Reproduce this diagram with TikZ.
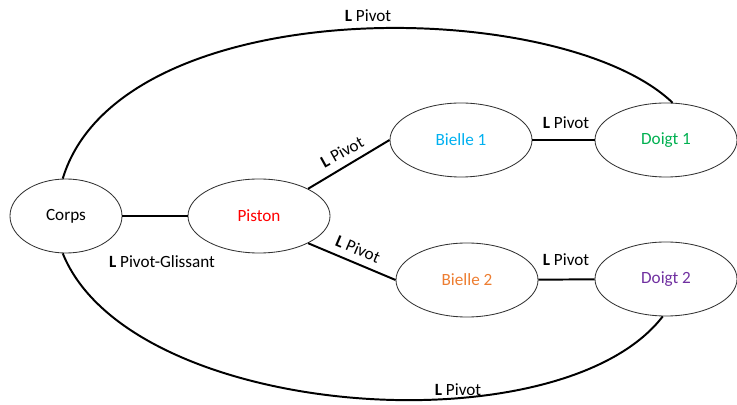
\documentclass[tikz,border=0pt]{standalone}
\usepackage{fontspec}
\setmainfont{Carlito}
\usetikzlibrary{shapes.geometric}
\definecolor{bleuclair}{RGB}{0,176,240}
\definecolor{vertdoigt}{RGB}{0,176,80}
\definecolor{orangeb}{RGB}{237,125,49}
\definecolor{violetd}{RGB}{112,48,160}
\tikzset{
	piece/.style={ellipse, draw=black!80, line width=0.6pt, inner sep=0pt,
		minimum width=3.55cm, minimum height=1.85cm},
	liaison/.style={line width=1.4pt},
	lbl/.style={inner sep=0pt}
}
\newcommand{\lien}[1]{\textbf{L} #1}

\begin{document}
\begin{tikzpicture}[x=0.025cm, y=-0.025cm, font=\fontsize{12.2}{14}\selectfont]
\useasboundingbox (0,0) rectangle (737,405);

%pieces
\node[piece, minimum width=2.8cm] (corps) at (66,216) {Corps};
\node[piece, text=red] (piston) at (259,216) {Piston};
\node[piece, text=bleuclair] (bielle1) at (461,140) {Bielle 1};
\node[piece, text=vertdoigt] (doigt1) at (666,140) {Doigt 1};
\node[piece, text=orangeb] (bielle2) at (467,280) {Bielle 2};
\node[piece, text=violetd] (doigt2) at (666,279) {Doigt 2};

% liaisons
\draw[liaison] (corps) -- (piston);
\draw[liaison] (piston.29) -- (bielle1.west);
\draw[liaison] (piston.-29) -- (bielle2.west);
\draw[liaison] (bielle1) -- (doigt1);
\draw[liaison] (bielle2) -- (doigt2);
\draw[liaison] (corps.95) .. controls (120,-10) and (560,-5) .. (doigt1.80);
\draw[liaison] (corps.-95) .. controls (130,420) and (560,450) .. (doigt2.265);

%labels
\node[lbl] (l1) at (162,262) {\lien{Pivot-Glissant}};
\node[lbl, rotate=29] (l2) at (342,152) {\lien{Pivot}};
\node[lbl, rotate=-23] (l3) at (358,249) {\lien{Pivot}};
\node[lbl] (l4) at (566,123) {\lien{Pivot}};
\node[lbl] (l5) at (566,260) {\lien{Pivot}};
\node[lbl] (l6) at (368,16) {\lien{Pivot}};
\node[lbl] (l7) at (458,390) {\lien{Pivot}};

\end{tikzpicture}
\end{document}
